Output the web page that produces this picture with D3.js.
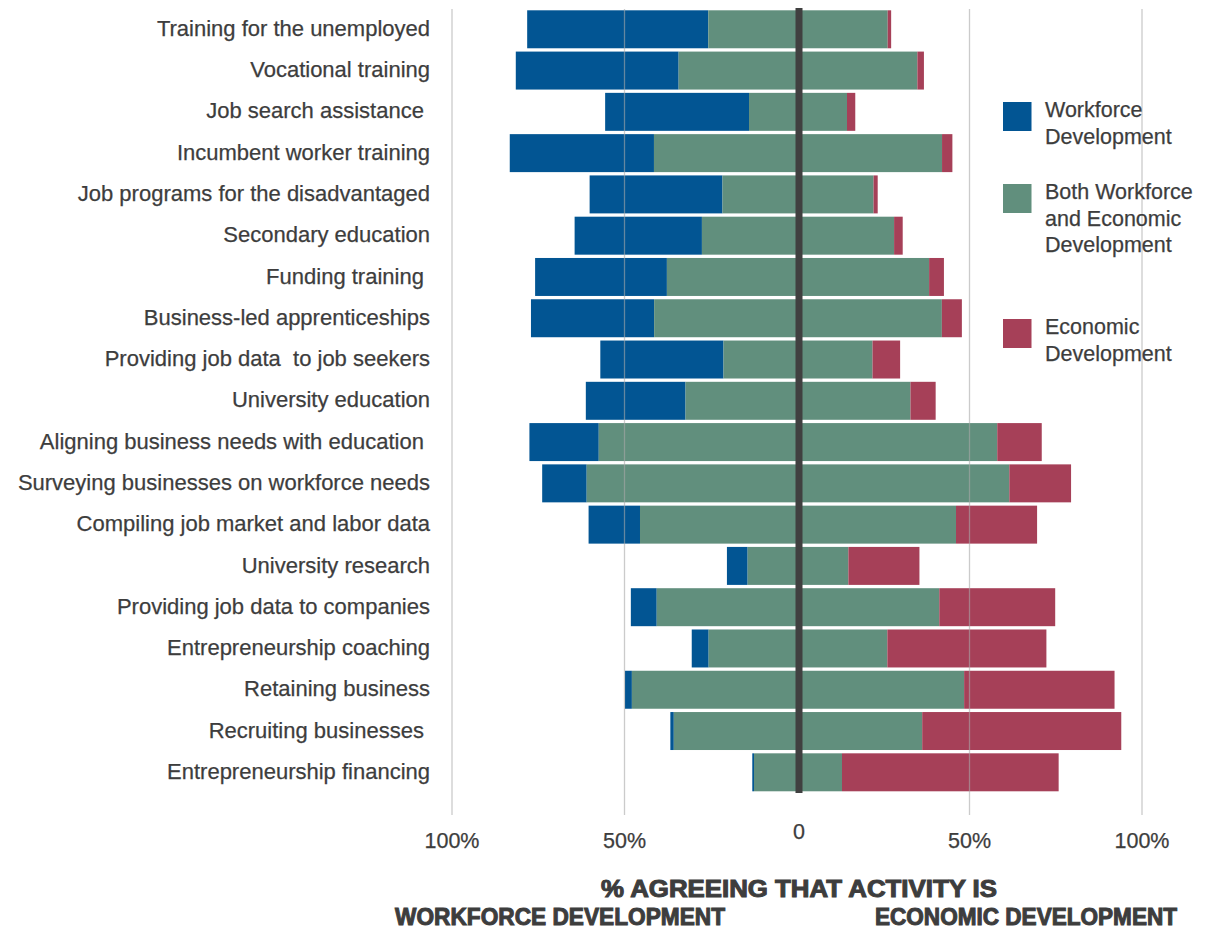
<!DOCTYPE html>
<html>
<head>
<meta charset="utf-8">
<script src="https://cdn.jsdelivr.net/npm/d3@7"></script>
<style>
  body { margin: 0; background: #fff; }
  text { font-family: "Liberation Sans", Arial, sans-serif; fill: #3d3d3d; }
  .cat { white-space: pre; }
</style>
</head>
<body>
<div id="chart"></div>
<script>
const categories = [
    "Training for the unemployed",
    "Vocational training",
    "Job search assistance ",
    "Incumbent worker training",
    "Job programs for the disadvantaged",
    "Secondary education",
    "Funding training ",
    "Business-led apprenticeships",
    "Providing job data  to job seekers",
    "University education",
    "Aligning business needs with education ",
    "Surveying businesses on workforce needs",
    "Compiling job market and labor data",
    "University research",
    "Providing job data to companies",
    "Entrepreneurship coaching",
    "Retaining business",
    "Recruiting businesses ",
    "Entrepreneurship financing"
];

// % workforce development only (drawn to the left)
const workforce = [52.5, 47.2, 41.7, 41.8, 38.5, 36.9, 38.2, 35.7, 35.7, 28.9, 20.1, 12.9, 14.9, 6.0, 7.5, 4.9, 2.0, 1.0, 0.5];
// both (split evenly across the centre line)
const both = [52.0, 69.2, 28.4, 83.5, 43.8, 55.7, 76.0, 83.4, 43.2, 65.2, 115.5, 122.5, 91.6, 29.2, 81.9, 51.8, 96.3, 72.0, 25.5];
// % economic development only (drawn to the right)
const economic = [1.0, 1.9, 2.4, 3.0, 1.2, 2.5, 4.3, 5.8, 8.0, 7.3, 12.9, 17.9, 23.5, 20.6, 33.6, 46.1, 43.6, 57.7, 62.8];

const tickValues = [-100, -50, 0, 50, 100];
const seriesNames = ["Workforce Development", "Both Workforce and Economic Development", "Economic Development"];
const legendLines = [["Workforce", "Development"], ["Both Workforce", "and Economic", "Development"], ["Economic", "Development"]];
const colors = ["#025593", "#618f7d", "#a64058"];

const width = 1212, height = 933;

const svg = d3.select("#chart").append("svg")
    .attr("width", width)
    .attr("height", height);

const x = d3.scaleLinear().domain([-100, 100]).range([453, 1143]);
const y = d3.scaleBand().domain(categories).range([7, 794.6]).padding(0.08);

// stacked segments per row
const rows = categories.map((c, i) => {
    const h = both[i] / 2;
    return [
        { cat: c, s: 0, x0: -h - workforce[i], x1: -h },
        { cat: c, s: 1, x0: -h, x1: h },
        { cat: c, s: 2, x0: h, x1: h + economic[i] }
    ];
});

svg.append("g")
    .selectAll("rect")
    .data(rows.flat())
    .enter()
    .append("rect")
    .attr("x", d => x(d.x0))
    .attr("y", d => y(d.cat))
    .attr("width", d => Math.max(0, x(d.x1) - x(d.x0)))
    .attr("height", y.bandwidth())
    .attr("fill", d => colors[d.s]);

// gridlines (drawn over the bars, faint)
svg.append("g")
    .selectAll("line")
    .data(tickValues.filter(t => t !== 0))
    .enter()
    .append("line")
    .attr("x1", d => x(d) - 1)
    .attr("x2", d => x(d) - 1)
    .attr("y1", 9)
    .attr("y2", 815)
    .attr("stroke", "#a8a8a8")
    .attr("stroke-opacity", 0.6)
    .attr("stroke-width", 1.3);

// centre line
svg.append("line")
    .attr("x1", x(0) + 1)
    .attr("x2", x(0) + 1)
    .attr("y1", 8)
    .attr("y2", 793)
    .attr("stroke", "#404040")
    .attr("stroke-width", 7);

// category labels
svg.append("g")
    .selectAll("text")
    .data(categories)
    .enter()
    .append("text")
    .attr("class", "cat")
    .attr("x", 430)
    .attr("y", d => y(d) + y.bandwidth() / 2)
    .attr("dy", "0.3em")
    .attr("text-anchor", "end")
    .attr("font-size", 22)
    .attr("stroke", "#3d3d3d")
    .attr("stroke-width", 0.25)
    .text(d => d);

// tick labels
svg.append("g")
    .selectAll("text")
    .data(tickValues)
    .enter()
    .append("text")
    .attr("x", d => x(d) + (d === 0 ? 1 : -1))
    .attr("y", d => d === 0 ? 839 : 848)
    .attr("text-anchor", "middle")
    .attr("font-size", 21.5)
    .attr("stroke", "#3d3d3d")
    .attr("stroke-width", 0.25)
    .text(d => d === 0 ? "0" : Math.abs(d) + "%");

// legend
const legendY = [102, 184, 319];
const legend = svg.append("g")
    .selectAll("g")
    .data(seriesNames)
    .enter()
    .append("g")
    .attr("transform", (d, i) => "translate(1003," + legendY[i] + ")");

legend.append("rect")
    .attr("width", 28.5)
    .attr("height", 29)
    .attr("fill", (d, i) => colors[i]);

legend.append("text")
    .attr("font-size", 21.5)
    .attr("stroke", "#3d3d3d")
    .attr("stroke-width", 0.25)
    .selectAll("tspan")
    .data((d, i) => legendLines[i])
    .enter()
    .append("tspan")
    .attr("x", 42)
    .attr("y", (d, j) => 15 + j * 26.5)
    .text(d => d);

// axis titles
const titleStyle = sel => sel
    .attr("font-family", "'DejaVu Sans', sans-serif")
    .attr("font-weight", "bold")
    .attr("font-size", 23)
    .attr("lengthAdjust", "spacingAndGlyphs")
    .attr("stroke", "#3d3d3d")
    .attr("stroke-width", 1);

svg.append("text")
    .call(titleStyle)
    .attr("x", 601)
    .attr("y", 897)
    .attr("textLength", 396)
    .text("% AGREEING THAT ACTIVITY IS");

svg.append("text")
    .call(titleStyle)
    .attr("x", 395)
    .attr("y", 925)
    .attr("textLength", 330)
    .text("WORKFORCE DEVELOPMENT");

svg.append("text")
    .call(titleStyle)
    .attr("x", 875)
    .attr("y", 925)
    .attr("textLength", 302)
    .text("ECONOMIC DEVELOPMENT");
</script>
</body>
</html>
